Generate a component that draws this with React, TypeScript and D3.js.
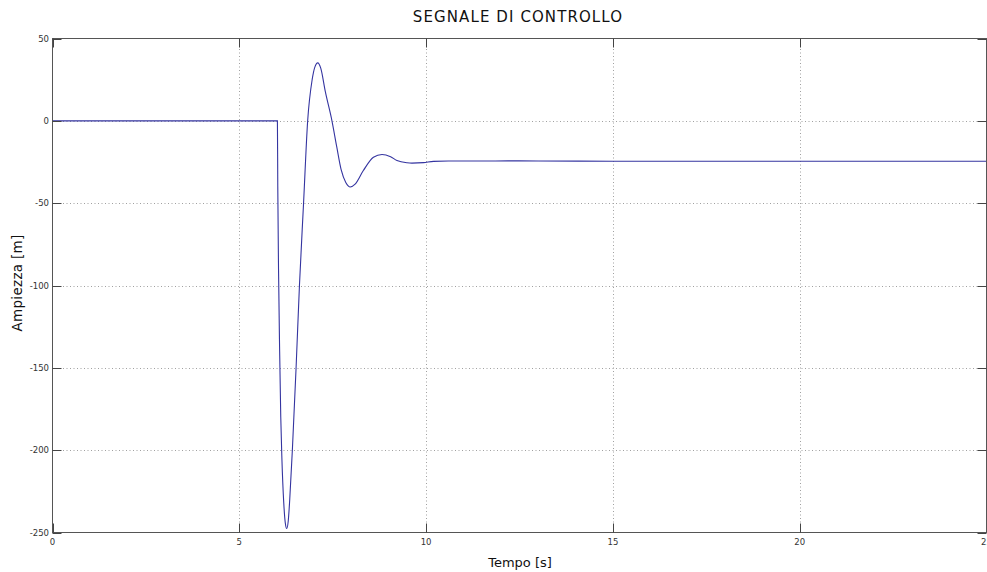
import React from "react";
import * as d3 from "d3";

const timeValues: number[] = [
  0, 6.0, 6.02, 6.03, 6.05, 6.08, 6.11, 6.14, 6.19, 6.23, 6.27, 6.31, 6.35, 6.42, 6.52,
  6.61, 6.72, 6.83, 6.95, 7.02, 7.1, 7.18, 7.3, 7.48, 7.61, 7.73, 7.85, 7.97, 8.1, 8.32,
  8.59, 8.82, 9.05, 9.22, 9.49, 9.62, 9.93, 10.2, 10.6, 11.5, 12.2, 13, 15, 20, 25,
];
const signalValues: number[] = [
  0, 0, 0, -40, -90, -140, -180, -205, -232, -244, -247.6, -243, -230, -200, -150,
  -100, -50, 0, 25, 32.5, 35.2, 32, 18, 0, -16, -30, -37.5, -40.2, -38.5, -30.2,
  -22.1, -20.4, -21.8, -24.1, -25.5, -25.7, -25.4, -24.6, -24.4, -24.4, -24.3, -24.4, -24.5, -24.5, -24.5,
];
const xTicks: number[] = [0, 5, 10, 15, 20, 25];
const yTicks: number[] = [-250, -200, -150, -100, -50, 0, 50];
const titleText = "SEGNALE DI CONTROLLO";
const xLabel = "Tempo [s]";
const yLabel = "Ampiezza [m]";

export default function App() {
  const W = 987;
  const H = 572;
  const left = 52.5;
  const right = 986.5;
  const top = 38.5;
  const bottom = 532.5;
  const x = d3.scaleLinear().domain([0, 25]).range([left, right]);
  const y = d3.scaleLinear().domain([-250, 50]).range([bottom, top]);
  const pts: [number, number][] = timeValues.map((t, i) => [t, signalValues[i]]);
  const line = d3
    .line<[number, number]>()
    .x((d) => x(d[0]))
    .y((d) => y(d[1]))
    .curve(d3.curveMonotoneX);
  const font = "DejaVu Sans, sans-serif";
  const tickLen = 9;
  return (
    <svg
      width={W}
      height={H}
      style={{ position: "absolute", left: 0, top: 0, background: "#fff" }}
    >
      <rect x={0} y={0} width={W} height={H} fill="#fff" />
      {/* grid */}
      {xTicks
        .filter((t) => t > 0 && t < 25)
        .map((t) => (
          <line
            key={"gx" + t}
            x1={Math.round(x(t)) + 0.5}
            x2={Math.round(x(t)) + 0.5}
            y1={top}
            y2={bottom}
            stroke="#a0a0a0"
            strokeWidth={1}
            strokeDasharray="1,2.5"
          />
        ))}
      {yTicks
        .filter((t) => t > -250 && t < 50)
        .map((t) => (
          <line
            key={"gy" + t}
            x1={left}
            x2={right}
            y1={Math.round(y(t)) + 0.5}
            y2={Math.round(y(t)) + 0.5}
            stroke="#a0a0a0"
            strokeWidth={1}
            strokeDasharray="1,2.5"
          />
        ))}
      {/* data line */}
      <path d={line(pts) || ""} fill="none" stroke="#3434a0" strokeWidth={1.1} />
      {/* box */}
      <rect
        x={left}
        y={top}
        width={right - left}
        height={bottom - top}
        fill="none"
        stroke="#555"
        strokeWidth={1}
      />
      {/* ticks */}
      {xTicks.map((t) => (
        <g key={"tx" + t}>
          <line
            x1={Math.round(x(t)) + 0.5}
            x2={Math.round(x(t)) + 0.5}
            y1={bottom}
            y2={bottom - tickLen}
            stroke="#444"
          />
          <line
            x1={Math.round(x(t)) + 0.5}
            x2={Math.round(x(t)) + 0.5}
            y1={top}
            y2={top + tickLen}
            stroke="#444"
          />
          <text
            x={x(t)}
            y={545}
            textAnchor="middle"
            fontFamily={font}
            fontSize={8.5}
            fill="#333"
          >
            {t}
          </text>
        </g>
      ))}
      {yTicks.map((t) => (
        <g key={"ty" + t}>
          <line
            x1={left}
            x2={left + tickLen}
            y1={Math.round(y(t)) + 0.5}
            y2={Math.round(y(t)) + 0.5}
            stroke="#444"
          />
          <line
            x1={right}
            x2={right - tickLen}
            y1={Math.round(y(t)) + 0.5}
            y2={Math.round(y(t)) + 0.5}
            stroke="#444"
          />
          <text
            x={49}
            y={y(t) + 3}
            textAnchor="end"
            fontFamily={font}
            fontSize={8.5}
            fill="#333"
          >
            {t}
          </text>
        </g>
      ))}
      {/* title */}
      <text
        x={518}
        y={22}
        textAnchor="middle"
        fontFamily={font}
        fontSize={15}
        letterSpacing={1.1}
        fill="#111"
      >
        {titleText}
      </text>
      <text
        x={520}
        y={567}
        textAnchor="middle"
        fontFamily={font}
        fontSize={13}
        fill="#111"
      >
        {xLabel}
      </text>
      <text
        transform={`translate(22,283) rotate(-90)`}
        textAnchor="middle"
        fontFamily={font}
        fontSize={13.5}
        letterSpacing={0.3}
        fill="#111"
      >
        {yLabel}
      </text>
    </svg>
  );
}
